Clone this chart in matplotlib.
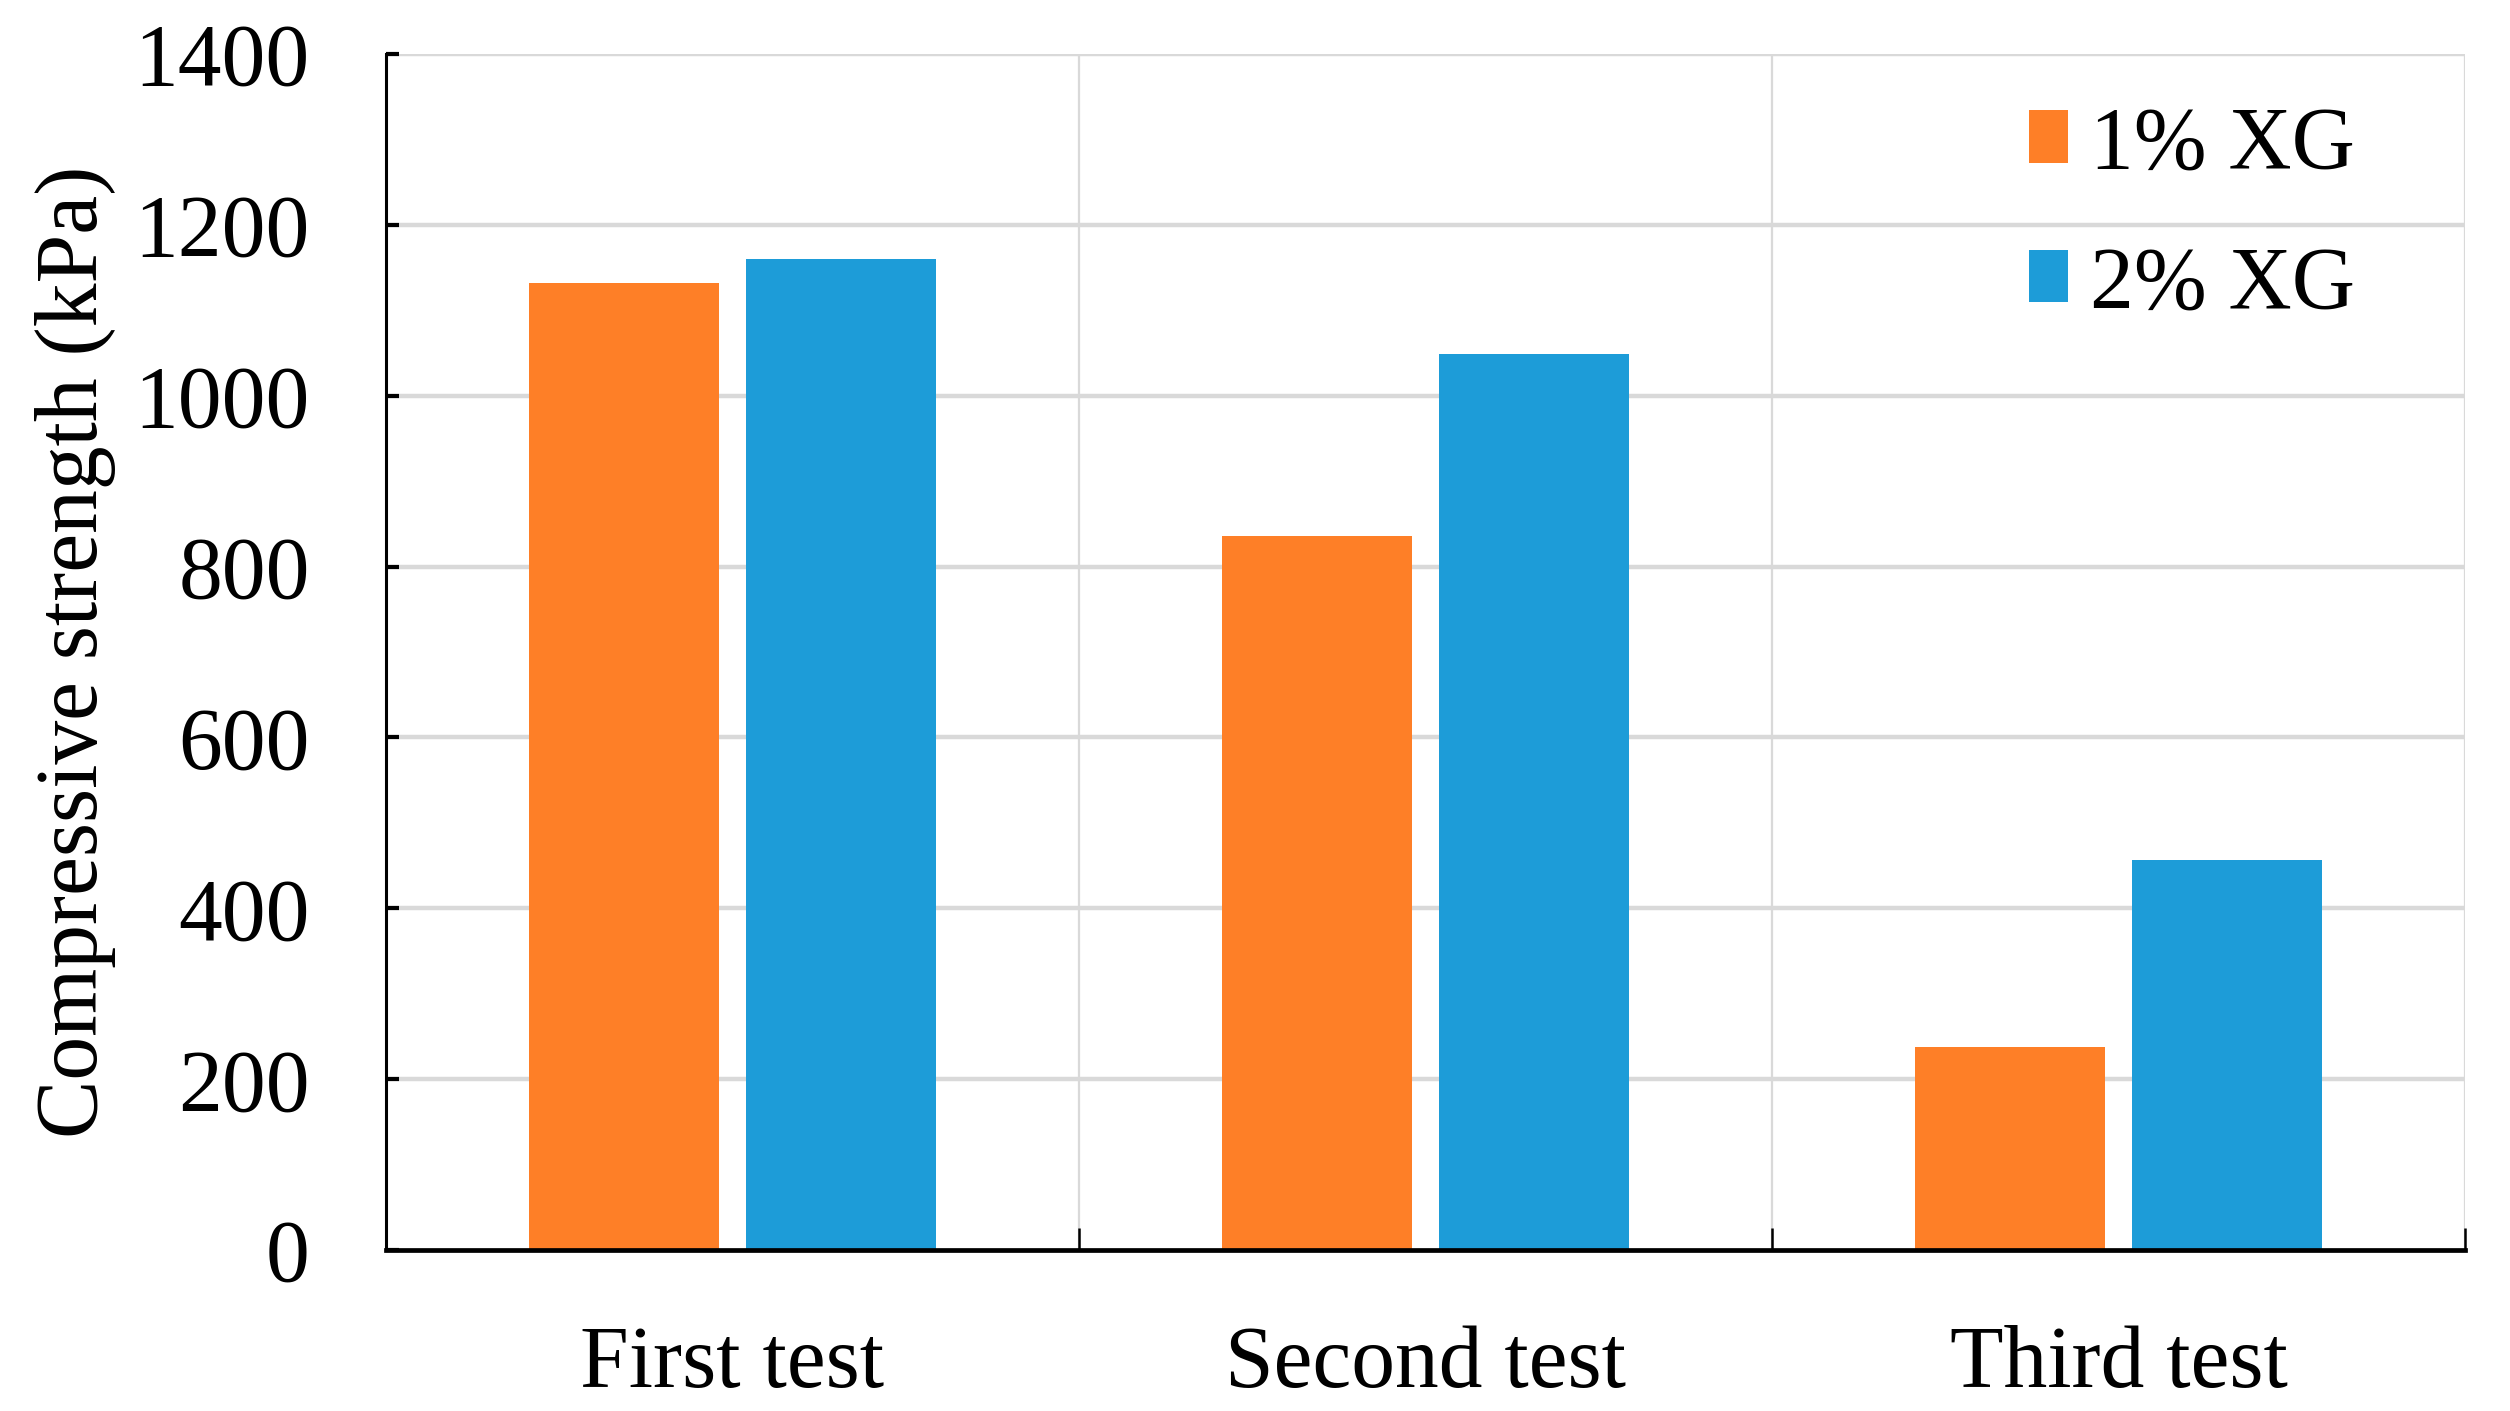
import matplotlib
matplotlib.use("Agg")
import matplotlib.pyplot as plt
import numpy as np

plt.rcParams['font.family'] = ['Liberation Serif', 'DejaVu Serif']

tests = ['First test', 'Second test', 'Third test']
xg1 = [1132, 836, 238]
xg2 = [1160, 1049, 457]
series_names = ['1% XG', '2% XG']
yticks = [0, 200, 400, 600, 800, 1000, 1200, 1400]

orange = '#FE7F27'
blue = '#1D9CD8'
grid_col = '#D9D9D9'

fig = plt.figure(figsize=(25.1, 14.11), dpi=100)
ax = fig.add_axes([0.1538, 0.1141, 0.8283, 0.8476])

x = np.arange(len(tests))
w = 0.274
off = 0.157
ax.bar(x - off, xg1, w, color=orange, label=series_names[0], zorder=3)
ax.bar(x + off, xg2, w, color=blue, label=series_names[1], zorder=3)

ax.set_xlim(-0.5, 2.5)
ax.set_ylim(0, 1400)
ax.set_yticks(yticks)
ax.set_yticklabels([str(v) for v in yticks])

# horizontal grid
for v in yticks[1:]:
    ax.axhline(v, color=grid_col, lw=3.2, zorder=1)
# vertical separators between tests
for b in [0.5, 1.5, 2.5]:
    ax.axvline(b, color=grid_col, lw=1.6, zorder=1)

ax.set_xticks(x)
ax.set_xticklabels(tests)
ax.set_xticks([0.5, 1.5, 2.5], minor=True)
ax.tick_params(axis='x', which='major', length=0, pad=54, labelsize=63)
ax.tick_params(axis='x', which='minor', direction='in', length=16, width=1.8)
ax.tick_params(axis='y', direction='in', length=9, width=3, pad=55, labelsize=63)

for s in ['top', 'right']:
    ax.spines[s].set_visible(False)
ax.spines['left'].set_linewidth(2.2)
ax.spines['bottom'].set_linewidth(3.4)
ax.spines['bottom'].set_zorder(4)
ax.spines['left'].set_zorder(4)

ax.set_ylabel('Compressive strength (kPa)', fontsize=63)
ax.yaxis.set_label_coords(-0.130, 0.5)

ax.legend(loc='upper right', bbox_to_anchor=(0.947, 0.957), frameon=False,
          fontsize=63, handlelength=0.45, handleheight=0.55, handletextpad=0.25,
          labelspacing=0.67, borderpad=0, borderaxespad=0)

fig.savefig('out.png', dpi=100, facecolor='white')
